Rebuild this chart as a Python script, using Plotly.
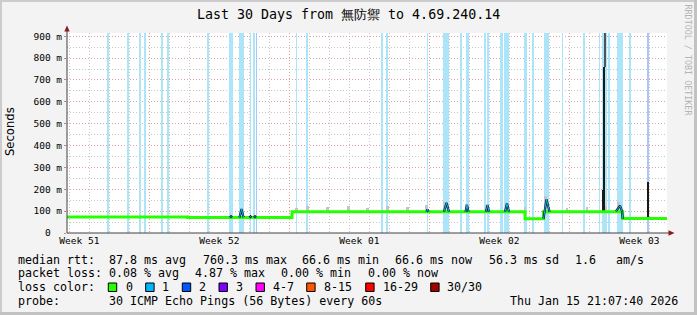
import plotly.graph_objects as go

# ---------------- data ----------------
TITLE = "Last 30 Days from 無防禦 to 4.69.240.14"
START_TIME = "2025-12-16 21:07:40"
END_TIME = "2026-01-15 21:07:40"

y_tick_vals = [0.0, 0.1, 0.2, 0.3, 0.4, 0.5, 0.6, 0.7, 0.8, 0.9]
y_tick_text = ["0\u00a0\u00a0", "100 m", "200 m", "300 m", "400 m",
               "500 m", "600 m", "700 m", "800 m", "900 m"]

week_label_times = ["2025-12-17 12:00", "2025-12-24 12:00", "2025-12-31 12:00",
                    "2026-01-07 12:00", "2026-01-14 12:00"]
week_labels = ["Week 51", "Week 52", "Week 01", "Week 02", "Week 03"]
week_grid_times = ["2025-12-21", "2025-12-28", "2026-01-04", "2026-01-11"]

# loss events 1/30 (light-blue background stripes), duration in hours
loss1_times = [
    "2025-12-18 22:40", "2025-12-19 22:40", "2025-12-20 13:05", "2025-12-20 19:05",
    "2025-12-21 15:30", "2025-12-21 22:20", "2025-12-23 22:00", "2025-12-25 00:45",
    "2025-12-25 03:30", "2025-12-25 14:32", "2025-12-26 01:20", "2025-12-26 05:32",
    "2025-12-28 08:32", "2025-12-28 21:29", "2026-01-01 14:46", "2026-01-01 21:29",
    "2026-01-03 21:44", "2026-01-04 20:10", "2026-01-05 13:56", "2026-01-05 21:58",
    "2026-01-06 18:44", "2026-01-06 22:34", "2026-01-07 13:20", "2026-01-07 15:29",
    "2026-01-07 20:46", "2026-01-08 18:08", "2026-01-08 19:56", "2026-01-09 03:58",
    "2026-01-09 20:46", "2026-01-10 15:44", "2026-01-11 17:53", "2026-01-12 12:08",
    "2026-01-12 16:20", "2026-01-12 18:44", "2026-01-12 22:56", "2026-01-13 12:29",
    "2026-01-14 00:44"]
loss1_hours = [1.2, 1.2, 1.2, 1.2, 1.2, 1.2, 1.2, 1.2,
               1.2, 6.0, 1.2, 2.4, 1.2, 1.2, 1.2, 1.2,
               1.2, 6.8, 1.2, 3.0, 1.2, 2.4, 1.2, 1.2,
               6.4, 1.2, 1.2, 1.2, 6.6, 1.2, 2.4, 1.2,
               2.4, 3.6, 2.4, 6.8, 1.2]
# loss events 2/30
loss2_times = ["2025-12-26 08:32", "2026-01-14 22:41"]
loss2_hours = [1.2, 1.2]

# median rtt (ms), step series
med_times = ["2025-12-16 21:07:40", "2025-12-22 22:00", "2025-12-28 03:08",
             "2026-01-08 18:44", "2026-01-09 16:56", "2026-01-13 15:58",
             "2026-01-15 21:07:40"]
med_ms = [73, 71, 97, 65, 97, 66, 66]

# median excursions with packet loss (drawn in loss colour)
bump_times = [
    "2025-12-25 00:44", "2025-12-25 01:56", "2025-12-25 03:08", None,
    "2025-12-25 12:08", "2025-12-25 14:32", "2025-12-25 16:56", None,
    "2025-12-26 00:08", "2025-12-26 01:20", "2025-12-26 02:32", None,
    "2025-12-26 05:32", "2025-12-26 06:44", "2025-12-26 07:56", None,
    "2026-01-03 20:32", "2026-01-03 21:44", "2026-01-03 22:56", None,
    "2026-01-04 17:32", "2026-01-04 20:32", "2026-01-04 23:32", None,
    "2026-01-05 19:20", "2026-01-05 21:08", "2026-01-05 22:56", None,
    "2026-01-06 19:56", "2026-01-06 21:44", "2026-01-06 23:32", None,
    "2026-01-07 18:44", "2026-01-07 21:08", "2026-01-07 23:32", None,
    "2026-01-09 16:56", "2026-01-09 20:32", "2026-01-10 00:08", None,
    "2026-01-13 07:56", "2026-01-13 12:44", "2026-01-13 15:08", "2026-01-13 15:58"]
bump_ms = [71, 76, 71, None, 71, 110, 72, None, 71, 76, 71, None,
           71, 76, 71, None, 97, 108, 97, None, 97, 138, 97, None,
           97, 128, 97, None, 97, 128, 97, None, 97, 135, 97, None,
           65, 154, 97, None, 100, 125, 100, 66]

# smoke (spread of the 30 pings) above the median
smoke_times = ["2025-12-18 22:20", "2025-12-19 22:40", "2025-12-28 08:46", "2025-12-28 21:29",
               "2025-12-29 21:29", "2025-12-30 22:41", "2025-12-31 21:58", "2026-01-01 21:29",
               "2026-01-02 21:29", "2026-01-03 20:32", "2026-01-04 17:32", "2026-01-05 19:56",
               "2026-01-06 19:56", "2026-01-07 19:56", "2026-01-08 18:44", "2026-01-09 19:20",
               "2026-01-10 21:08", "2026-01-11 21:08", "2026-01-12 19:56", "2026-01-13 10:56"]
smoke_lo_ms = [73, 73, 97, 97, 97, 97, 97, 97, 97, 97, 97, 97, 97, 97, 97, 97, 97, 97, 97, 97]
smoke_hi_ms = [80, 80, 115, 122, 120, 125, 115, 122, 120, 128, 140, 132, 130, 138, 118, 170,
               115, 118, 125, 140]

# dense smoke (dark) at level changes and spikes
dark_times = ["2025-12-28 03:08", "2026-01-08 18:44", "2026-01-12 16:05",
              "2026-01-12 17:53", "2026-01-14 22:41"]
dark_lo_ms = [71, 65, 97, 97, 66]
dark_hi_ms = [97, 97, 196, 760, 234]
dark_hours = [1.2, 1.2, 1.2, 1.8, 2.0]

# sparse smoke going above the top
top_times = ["2026-01-12 18:44"]
top_lo_ms = [760]
top_hi_ms = [930]
top_hours = [0.8]

loss_labels = ["0", "1", "2", "3", "4-7", "8-15", "16-29", "30/30"]
loss_colors = ["#26ff00", "#00b8ff", "#0059ff", "#7e00ff", "#ff00ff", "#ff5500", "#ff0000", "#a10000"]

stats_median = ["87.8 ms avg", "760.3 ms max", "66.6 ms min", "66.6 ms now", "56.3 ms sd", "1.6", "am/s"]
stats_loss = ["0.08 % avg", "4.87 % max", "0.00 % min", "0.00 % now"]
probe_text = "30 ICMP Echo Pings (56 Bytes) every 60s"
stamp_text = "Thu Jan 15 21:07:40 2026"

# ---------------- layout helpers ----------------
W, H = 697, 315
PL, PR, PT, PB = 67, 667, 33, 233
MONO = "DejaVu Sans Mono"
HOUR_MS = 3600000


def px(x):
    return (x - PL) / (PR - PL)


def py(y):
    return (PB - y) / (PB - PT)


def s(v):
    return None if v is None else v / 1000.0


fig = go.Figure()

fig.add_trace(go.Bar(x=loss1_times, y=[1.0] * len(loss1_times), base=0,
                     width=[h * HOUR_MS for h in loss1_hours],
                     marker=dict(color="#ace5f9", line=dict(width=0)), hoverinfo="skip"))
fig.add_trace(go.Bar(x=loss2_times, y=[1.0] * len(loss2_times), base=0,
                     width=[h * HOUR_MS for h in loss2_hours],
                     marker=dict(color="#abc6fb", line=dict(width=0)), hoverinfo="skip"))
fig.add_trace(go.Bar(x=smoke_times, y=[s(h - l) for h, l in zip(smoke_hi_ms, smoke_lo_ms)],
                     base=[s(l) for l in smoke_lo_ms],
                     width=[3.0 * HOUR_MS] * len(smoke_times),
                     marker=dict(color="#c4c4c4", line=dict(width=0)), hoverinfo="skip"))
fig.add_trace(go.Bar(x=top_times, y=[s(h - l) for h, l in zip(top_hi_ms, top_lo_ms)],
                     base=[s(l) for l in top_lo_ms],
                     width=[h * HOUR_MS for h in top_hours],
                     marker=dict(color="#4a5560", line=dict(width=0)), hoverinfo="skip"))
fig.add_trace(go.Scatter(x=med_times, y=[s(v) for v in med_ms], mode="lines",
                         line=dict(color="#26ff00", width=3, shape="hv"), hoverinfo="skip"))
fig.add_trace(go.Bar(x=dark_times, y=[s(h - l) for h, l in zip(dark_hi_ms, dark_lo_ms)],
                     base=[s(l) for l in dark_lo_ms],
                     width=[h * HOUR_MS for h in dark_hours],
                     marker=dict(color="#1a1a1a", line=dict(width=0)), hoverinfo="skip"))
fig.add_trace(go.Scatter(x=bump_times, y=[s(v) for v in bump_ms], mode="lines",
                         line=dict(color="#111111", width=2.2), hoverinfo="skip", connectgaps=False))
fig.add_trace(go.Scatter(x=bump_times, y=[s(v) for v in bump_ms], mode="lines",
                         line=dict(color="#00b8ff", width=1), hoverinfo="skip", connectgaps=False))
# carrier for the label axis
fig.add_trace(go.Scatter(x=[START_TIME, END_TIME], y=[None, None], xaxis="x2",
                         mode="lines", hoverinfo="skip"))

shapes = []
# frame
shapes.append(dict(type="line", xref="paper", yref="paper", x0=px(0), x1=px(W), y0=py(1), y1=py(1),
                   line=dict(color="#cccccc", width=2)))
shapes.append(dict(type="line", xref="paper", yref="paper", x0=px(1), x1=px(1), y0=py(0), y1=py(H),
                   line=dict(color="#cccccc", width=2)))
shapes.append(dict(type="line", xref="paper", yref="paper", x0=px(695.5), x1=px(695.5), y0=py(0), y1=py(H),
                   line=dict(color="#c2c2c2", width=3)))
shapes.append(dict(type="line", xref="paper", yref="paper", x0=px(0), x1=px(W), y0=py(313.5), y1=py(313.5),
                   line=dict(color="#c2c2c2", width=3)))
# axes with arrows
shapes.append(dict(type="line", xref="paper", yref="paper", x0=px(67), x1=px(669), y0=py(233), y1=py(233),
                   line=dict(color="#404040", width=1)))
shapes.append(dict(type="line", xref="paper", yref="paper", x0=px(67), x1=px(67), y0=py(233), y1=py(30),
                   line=dict(color="#404040", width=1)))
shapes.append(dict(type="path", xref="paper", yref="paper",
                   path="M %f,%f L %f,%f L %f,%f Z" % (px(668.5), py(230.3), px(668.5), py(235.7), px(674.5), py(233)),
                   fillcolor="#8b1a1a", line=dict(width=0)))
shapes.append(dict(type="path", xref="paper", yref="paper",
                   path="M %f,%f L %f,%f L %f,%f Z" % (px(64.3), py(31.5), px(69.7), py(31.5), px(67), py(25.5)),
                   fillcolor="#8b1a1a", line=dict(width=0)))

# loss colour legend boxes
box_x = [108.3, 145.7, 182.3, 219.0, 256.0, 306.7, 365.7, 430.7]
lab_x = [124.0, 160.0, 196.7, 234.0, 270.7, 321.7, 380.7, 445.0]
for bx, col in zip(box_x, loss_colors):
    shapes.append(dict(type="rect", xref="paper", yref="paper", x0=px(bx), x1=px(bx + 8.4),
                       y0=py(291.5), y1=py(283.0), fillcolor=col, line=dict(color="#000000", width=1)))

ann = []
LEG = 11.65


def txt(x, y, t, size=LEG, anchor="left", **kw):
    ann.append(dict(x=px(x), y=py(y), xref="paper", yref="paper", text=t, showarrow=False,
                    xanchor=anchor, yanchor="middle", font=dict(family=MONO, size=size, color="#000000"),
                    **kw))


txt(348.5, 15, TITLE, size=13.3, anchor="center")
txt(10, 132, "Seconds", size=11.6, anchor="center", textangle=-90)
ann[-1]["font"]["family"] = "DejaVu Sans"
txt(687.5, 60, "RRDTOOL / TOBI OETIKER", size=8.4, anchor="center", textangle=90)
ann[-1]["font"]["color"] = "#b4b4b4"

row1, row2, row3, row4 = 259.5, 273.0, 287.3, 300.7
txt(16, row1, "median rtt:")
for x, t in zip([107.3, 201.0, 300.0, 393.3, 486.7, 572.7, 614.3], stats_median):
    txt(x, row1, t)
txt(16, row2, "packet loss:")
for x, t in zip([107.3, 193.0, 279.0, 365.7], stats_loss):
    txt(x, row2, t)
txt(16, row3, "loss color:")
for x, t in zip(lab_x, loss_labels):
    txt(x, row3, t)
txt(16, row4, "probe:")
txt(107.3, row4, probe_text)
txt(680.0, row4, stamp_text, anchor="right")

grid_red = "#e2a0a0"
grid_gray = "#c8c8c8"

fig.update_layout(
    width=W, height=H, autosize=False,
    margin=dict(l=PL, r=W - PR, t=PT, b=H - PB, pad=0),
    paper_bgcolor="#f3f3f3", plot_bgcolor="#ffffff",
    showlegend=False, barmode="overlay", bargap=0,
    shapes=shapes, annotations=ann,
    xaxis=dict(type="date", range=[START_TIME, END_TIME], tickmode="array",
               tickvals=week_grid_times, showticklabels=False,
               showgrid=True, gridcolor=grid_red, griddash="1px,2px", gridwidth=1,
               ticks="", zeroline=False, showline=False,
               minor=dict(tickmode="linear", tick0="2025-12-14", dtick=86400000,
                          showgrid=True, gridcolor=grid_gray, griddash="1px,2px", gridwidth=1, ticks="")),
    xaxis2=dict(type="date", overlaying="x", side="bottom", anchor="y",
                range=[START_TIME, END_TIME], tickmode="array",
                tickvals=week_label_times, ticktext=week_labels,
                showgrid=False, ticks="", zeroline=False, showline=False,
                tickfont=dict(family=MONO, size=9.5, color="#000000")),
    yaxis=dict(range=[0, 0.915], tickmode="array", tickvals=y_tick_vals, ticktext=y_tick_text,
               showgrid=True, gridcolor=grid_red, griddash="1px,2px", gridwidth=1,
               zeroline=False, showline=False, ticks="outside", ticklen=2, tickcolor="#d08080",
               tickfont=dict(family=MONO, size=9.5, color="#000000"),
               minor=dict(tickmode="linear", tick0=0, dtick=0.05, showgrid=True,
                          gridcolor=grid_gray, griddash="1px,2px", gridwidth=1, ticks="")),
)

fig.write_html("out.html")
